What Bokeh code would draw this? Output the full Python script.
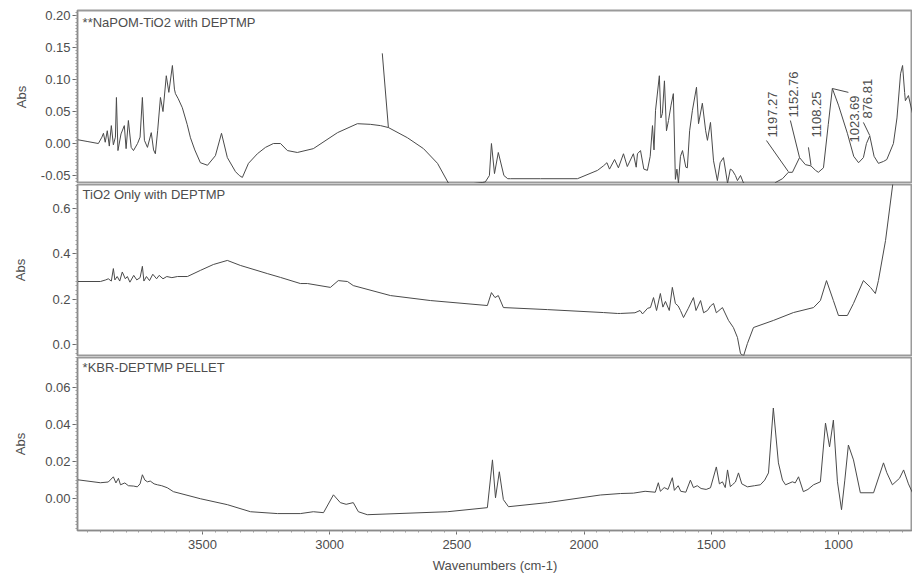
import numpy as np
from bokeh.plotting import figure
from bokeh.layouts import column
from bokeh.models import Range1d, SingleIntervalTicker, NumeralTickFormatter, Label
from bokeh.embed import file_html
from bokeh.resources import INLINE
from bokeh.core.properties import value

# ---------------- data (wavenumber cm-1, absorbance) ----------------
top_title = "**NaPOM-TiO2 with DEPTMP"
mid_title = "TiO2 Only with DEPTMP"
bot_title = "*KBR-DEPTMP PELLET"
x_title = "Wavenumbers (cm-1)"
y_title = "Abs"

top_wn = [3991, 3950, 3909, 3895, 3889, 3882, 3874, 3866, 3858, 3850, 3842, 3838, 3832, 3820,
          3807, 3800, 3791, 3780, 3771, 3755, 3745, 3736, 3728, 3716, 3701, 3692, 3685, 3676,
          3665, 3655, 3642, 3632, 3618, 3610, 3606, 3595, 3579, 3560, 3547, 3530, 3508, 3480,
          3449, 3425, 3402, 3370, 3355, 3343, 3319, 3284, 3252, 3221, 3193, 3166, 3127, 3064,
          2969, 2891, 2840, 2800, 2769, 2694, 2631, 2576, 2533, 2513, 2400, 2388, 2372, 2364,
          2352, 2337, 2315, 2300, 2289, 2171, 2026, 1947, 1924, 1910, 1900, 1880, 1865, 1845,
          1830, 1806, 1795, 1790, 1778, 1765, 1751, 1740, 1731, 1725, 1719, 1704, 1698, 1692,
          1684, 1676, 1668, 1658, 1649, 1641, 1635, 1629, 1621, 1613, 1600, 1594, 1585, 1574,
          1558, 1550, 1535, 1522, 1515, 1503, 1491, 1476, 1465, 1452, 1436, 1425, 1417, 1405,
          1397, 1385, 1373, 1300, 1260, 1248, 1220, 1197, 1181, 1153, 1130, 1108, 1090, 1079,
          1059, 1040, 1024, 1000, 965, 940, 921, 902, 890, 877, 860, 843, 823, 810, 784, 770,
          756, 748, 740, 737, 725, 709]
top_abs = [0.006, 0.003, 0.000, 0.010, 0.016, 0.002, 0.020, -0.004, 0.028, -0.002, 0.010, 0.072, -0.011, 0.015,
           0.028, -0.008, 0.036, -0.006, -0.011, 0.000, 0.010, 0.072, 0.005, -0.006, 0.017, -0.010, -0.016, 0.020,
           0.072, 0.050, 0.106, 0.080, 0.122, 0.085, 0.078, 0.070, 0.056, 0.030, 0.009, -0.010, -0.030, -0.034,
           -0.019, 0.016, -0.022, -0.044, -0.050, -0.053, -0.031, -0.016, -0.006, 0.000, 0.000, -0.011, -0.014, -0.008,
           0.017, 0.031, 0.030, 0.028, 0.025, 0.009, -0.008, -0.031, -0.062, -0.066, -0.061, -0.060, -0.050, 0.000,
           -0.047, -0.014, -0.050, -0.055, -0.055, -0.055, -0.055, -0.042, -0.035, -0.030, -0.040, -0.025, -0.038, -0.016,
           -0.036, -0.016, -0.037, -0.016, -0.011, -0.040, -0.042, -0.020, 0.028, -0.010, 0.052, 0.106, 0.040, 0.047,
           0.098, 0.020, 0.036, 0.060, 0.078, -0.056, -0.040, -0.062, -0.020, -0.011, -0.037, -0.038, 0.020, 0.052,
           0.088, 0.031, 0.063, 0.020, 0.005, 0.033, -0.027, -0.058, -0.030, -0.022, -0.062, -0.040, -0.042, -0.050,
           -0.058, -0.050, -0.062, -0.070, -0.070, -0.061, -0.055, -0.045, -0.045, -0.022, -0.033, -0.035, -0.042, -0.045,
           -0.038, 0.030, 0.086, 0.060, 0.016, -0.020, -0.030, -0.022, 0.000, 0.012, -0.020, -0.031, -0.028, -0.025, 0.000, 0.040,
           0.109, 0.122, 0.080, 0.067, 0.075, 0.047]

mid_wn = [3991, 3901, 3880, 3870, 3858, 3850, 3844, 3835, 3825, 3815, 3803, 3795, 3785, 3770, 3758,
          3745, 3736, 3730, 3720, 3708, 3695, 3680, 3670, 3655, 3640, 3620, 3598, 3559, 3508, 3457,
          3402, 3351, 3245, 3193, 3115, 3087, 2997, 2966, 2930, 2907, 2761, 2604, 2380, 2364, 2350,
          2337, 2317, 2144, 1924, 1869, 1857, 1800, 1780, 1770, 1750, 1739, 1727, 1715, 1700, 1690,
          1680, 1665, 1653, 1641, 1630, 1621, 1609, 1590, 1570, 1560, 1542, 1530, 1515, 1503, 1491,
          1480, 1456, 1432, 1413, 1397, 1385, 1373, 1358, 1334, 1256, 1177, 1098, 1071, 1047, 1020,
          1000, 965, 941, 902, 874, 855, 843, 815, 776, 709]
mid_abs = [0.278, 0.278, 0.285, 0.290, 0.280, 0.335, 0.285, 0.300, 0.280, 0.320, 0.290, 0.300, 0.275, 0.305, 0.285,
           0.295, 0.345, 0.280, 0.300, 0.282, 0.310, 0.290, 0.305, 0.290, 0.300, 0.295, 0.300, 0.300, 0.327, 0.353,
           0.371, 0.349, 0.313, 0.296, 0.269, 0.269, 0.252, 0.282, 0.278, 0.260, 0.216, 0.194, 0.172, 0.229, 0.207,
           0.216, 0.163, 0.154, 0.141, 0.137, 0.137, 0.140, 0.150, 0.135, 0.160, 0.163, 0.207, 0.150, 0.225, 0.165,
           0.190, 0.150, 0.252, 0.181, 0.170, 0.150, 0.119, 0.160, 0.207, 0.150, 0.194, 0.140, 0.150, 0.170, 0.181,
           0.140, 0.163, 0.106, 0.075, 0.031, -0.040, -0.050, 0.004, 0.075, 0.106, 0.141, 0.163, 0.194, 0.282, 0.194,
           0.128, 0.128, 0.181, 0.282, 0.252, 0.225, 0.282, 0.459, 0.800, 0.900]

bot_wn = [3991, 3901, 3870, 3850, 3840, 3830, 3822, 3805, 3791, 3770, 3756, 3745, 3736, 3726, 3716,
          3705, 3690, 3677, 3660, 3638, 3614, 3508, 3402, 3311, 3205, 3115, 3064, 3024, 2985, 2958,
          2935, 2907, 2887, 2852, 2537, 2380, 2360, 2348, 2333, 2317, 2297, 2144, 1936, 1857, 1806,
          1760, 1720, 1708, 1700, 1685, 1670, 1653, 1645, 1630, 1620, 1600, 1582, 1570, 1555, 1540,
          1520, 1503, 1480, 1468, 1456, 1445, 1436, 1425, 1417, 1405, 1393, 1380, 1358, 1330, 1307,
          1290, 1275, 1256, 1236, 1220, 1208, 1181, 1170, 1157, 1138, 1120, 1098, 1071, 1051, 1035,
          1020, 1004, 988, 975, 961, 941, 914, 862, 823, 810, 788, 760, 744, 725, 709]
bot_abs = [0.0102, 0.0086, 0.0090, 0.0118, 0.0085, 0.0110, 0.0075, 0.0085, 0.0070, 0.0068, 0.0064, 0.0080, 0.0129, 0.0100, 0.0091,
           0.0095, 0.0080, 0.0075, 0.0070, 0.0059, 0.0038, 0.0000, -0.0032, -0.0070, -0.0080, -0.0080, -0.0070, -0.0075, 0.0021, -0.0021,
           -0.0030, -0.0021, -0.0070, -0.0086, -0.0070, -0.0048, 0.0209, 0.0005, 0.0145, -0.0005, -0.0043, -0.0021, 0.0020, 0.0028, 0.0030,
           0.0040, 0.0035, 0.0086, 0.0040, 0.0060, 0.0050, 0.0113, 0.0045, 0.0070, 0.0040, 0.0035, 0.0100, 0.0060, 0.0070, 0.0055,
           0.0050, 0.0059, 0.0171, 0.0080, 0.0091, 0.0060, 0.0155, 0.0065, 0.0075, 0.0090, 0.0139, 0.0080, 0.0064, 0.0070, 0.0075,
           0.0100, 0.0139, 0.0488, 0.0193, 0.0100, 0.0075, 0.0091, 0.0085, 0.0118, 0.0038, 0.0050, 0.0075, 0.0091, 0.0407, 0.0279,
           0.0423, 0.0091, -0.0059, 0.0100, 0.0289, 0.0209, 0.0032, 0.0032, 0.0193, 0.0140, 0.0075, 0.0110, 0.0155, 0.0080, 0.0032]

# peak labels on the top spectrum
peak_labels = ["1197.27", "1152.76", "1108.25", "1023.69", "876.81"]
peak_label_wn = [1259, 1177, 1086, 937, 886]
peak_label_abs = [0.0094, 0.0406, 0.0094, 0.0016, 0.039]
leader_wn0 = [1283, 1189, 1118, 1024, 902, 2769]
leader_abs0 = [0.0047, 0.036, -0.006, 0.086, 0.033, 0.025]
leader_wn1 = [1197, 1153, 1108, 961, 877, 2793]
leader_abs1 = [-0.044, -0.022, -0.034, 0.080, 0.0125, 0.141]

# ---------------- styling ----------------
FONT = "Liberation Sans"
LINE = "#4a4a4a"
TXT = "#4d4d4d"
FRAME = "#9a9a9a"
W = 912
xr = Range1d(3991, 709)


def make_fig(height, yr, interval, fmt, btop, bbottom, show_x, label_standoff):
    p = figure(width=W, height=height, x_range=xr, y_range=Range1d(*yr),
               output_backend="svg", toolbar_location=None,
               x_axis_location="below" if show_x else None,
               min_border_left=77, min_border_right=0,
               min_border_top=btop, min_border_bottom=bbottom)
    p.grid.visible = False
    p.outline_line_color = FRAME
    p.outline_line_width = 2
    p.background_fill_color = "white"
    p.border_fill_color = "white"
    ya = p.yaxis[0]
    ya.ticker = SingleIntervalTicker(interval=interval, num_minor_ticks=10)
    ya.formatter = NumeralTickFormatter(format=fmt)
    ya.axis_label = y_title
    ya.axis_label_text_font = FONT
    ya.axis_label_text_font_size = "13px"
    ya.axis_label_text_font_style = "normal"
    ya.axis_label_text_color = TXT
    ya.axis_label_standoff = label_standoff
    ya.major_label_text_font = FONT
    ya.major_label_text_font_size = "13px"
    ya.major_label_text_color = TXT
    ya.major_label_standoff = 2
    ya.major_tick_out = 5
    ya.major_tick_in = 0
    ya.minor_tick_out = 2
    ya.minor_tick_in = 0
    ya.axis_line_color = "#8a8a8a"
    ya.major_tick_line_color = "#6a6a6a"
    ya.minor_tick_line_color = "#9a9a9a"
    return p


p1 = make_fig(183, (-0.0625, 0.208), 0.05, "0.00", 10, 0, False, 9)
p2 = make_fig(173, (-0.0485, 0.706), 0.2, "0.0", 1, 1, False, 21)
p3 = make_fig(219, (-0.0171, 0.076), 0.02, "0.00", 1, 44, True, 14)

p1.line(top_wn, top_abs, line_color=LINE, line_width=1)
p2.line(mid_wn, mid_abs, line_color=LINE, line_width=1)
p3.line(bot_wn, bot_abs, line_color=LINE, line_width=1)

# peak annotations
p1.segment(leader_wn0, leader_abs0, leader_wn1, leader_abs1, line_color=LINE, line_width=1)
p1.text(peak_label_wn, peak_label_abs, text=peak_labels, angle=np.pi / 2,
        text_align="left", text_baseline="middle", text_font=value(FONT),
        text_font_size="13px", text_color=TXT)

# panel titles
for p, t, y in [(p1, top_title, 0.2017), (p2, mid_title, 0.693), (p3, bot_title, 0.0744)]:
    p.add_layout(Label(x=3971, y=y, text=t, text_align="left", text_baseline="top",
                       text_font=FONT, text_font_size="13px", text_color=TXT))

xa = p3.xaxis[0]
xa.ticker = SingleIntervalTicker(interval=500, num_minor_ticks=10)
xa.axis_label = x_title
xa.axis_label_text_font = FONT
xa.axis_label_text_font_size = "13px"
xa.axis_label_text_font_style = "normal"
xa.axis_label_text_color = TXT
xa.axis_label_standoff = 6
xa.major_label_text_font = FONT
xa.major_label_text_font_size = "13px"
xa.major_label_text_color = TXT
xa.major_label_standoff = 5
xa.major_tick_out = 4
xa.major_tick_in = 0
xa.minor_tick_out = 2
xa.minor_tick_in = 0
xa.axis_line_color = "#8a8a8a"
xa.major_tick_line_color = "#6a6a6a"
xa.minor_tick_line_color = "#9a9a9a"

layout = column(p1, p2, p3, spacing=0)
open("out.html", "w").write(file_html(layout, INLINE))
